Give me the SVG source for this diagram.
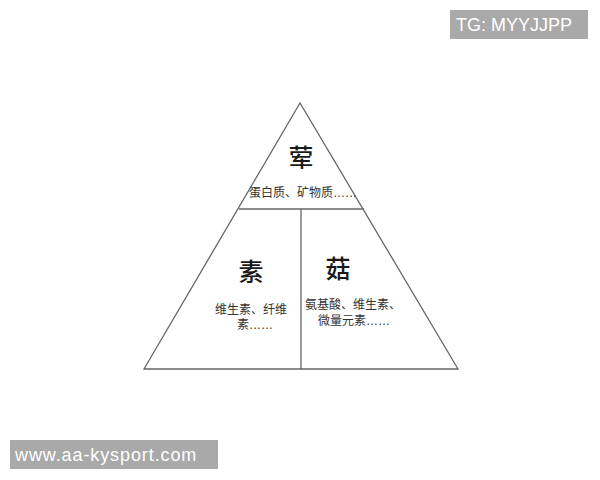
<svg xmlns="http://www.w3.org/2000/svg" width="600" height="480" viewBox="0 0 600 480">
<style>
.ln{stroke:#666;stroke-width:1.3;fill:none}
.big{font-family:"Noto Sans CJK SC","Liberation Sans",sans-serif;font-size:25px;font-weight:500;fill:#1a1a1a;text-anchor:middle}
.sm{font-family:"Liberation Sans","Noto Sans CJK SC",sans-serif;font-size:12px;fill:#333;text-anchor:middle}
.wm{font-family:"Liberation Sans",sans-serif;font-size:18px;fill:#fff}
</style>
<rect width="600" height="480" fill="#fff"/>
<g id="connectors">
<polygon class="ln" points="300,103 144,369 458,369"/>
<line class="ln" x1="239" y1="209" x2="364" y2="209"/>
<line class="ln" x1="301" y1="209" x2="301" y2="369" stroke-width="1.6"/>
</g>
<g id="node-top">
<text class="big" x="301" y="167">荤</text>
<text class="sm" x="303" y="197">蛋白质、矿物质……</text>
</g>
<g id="node-left">
<text class="big" x="251" y="281">素</text>
<text class="sm" x="251" y="314">维生素、纤维</text>
<text class="sm" x="255" y="329">素……</text>
</g>
<g id="node-right">
<text class="big" x="338" y="278">菇</text>
<text class="sm" x="353" y="309">氨基酸、维生素、</text>
<text class="sm" x="354" y="325">微量元素……</text>
</g>
<g id="watermark-top">
<rect x="450" y="10" width="138" height="29" fill="#a9a9a9"/>
<text class="wm" x="456" y="31" font-size="18.5">TG: MYYJJPP</text>
</g>
<g id="watermark-bottom">
<rect x="10" y="440" width="208" height="29" fill="#a9a9a9"/>
<text class="wm" x="15" y="461" letter-spacing="0.9">www.aa-kysport.com</text>
</g>
</svg>
